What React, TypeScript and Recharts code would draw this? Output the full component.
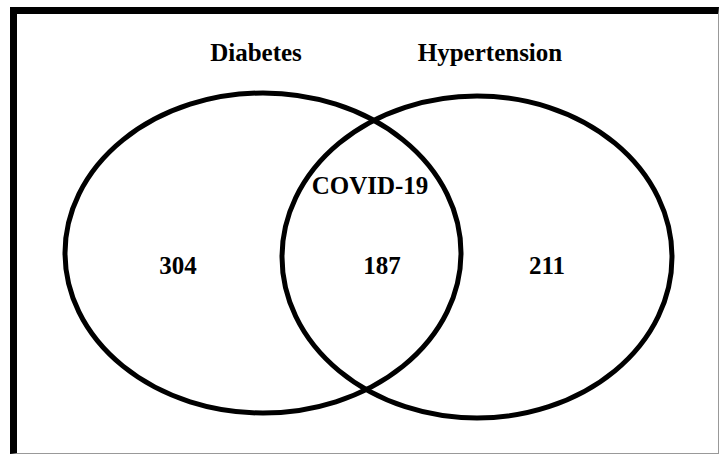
import React from "react";
import { ScatterChart, Scatter, XAxis, YAxis } from "recharts";

// ---- data ----
const setNames = ["Diabetes", "Hypertension"];
const overlapName = "COVID-19";
const regionCounts = [304, 187, 211]; // Diabetes only, both, Hypertension only

// ---- layout (chart coordinates) ----
const W = 720;
const H = 455;
const ellipseLayout = [
  { x: 263, y: 253, rx: 198, ry: 160 },
  { x: 477, y: 257, rx: 195, ry: 161 },
];
const nameLayout = [
  { x: 256, y: 61 },
  { x: 490, y: 61 },
];
const countLayout = [
  { x: 178, y: 274 },
  { x: 382, y: 274 },
  { x: 547, y: 274 },
];
const overlapLayout = { x: 370, y: 194 };

const ellipseData = ellipseLayout.map((e, i) => ({ ...e, name: setNames[i] }));
const textData = [
  ...setNames.map((n, i) => ({ ...nameLayout[i], label: n })),
  { ...overlapLayout, label: overlapName },
  ...regionCounts.map((c, i) => ({ ...countLayout[i], label: String(c) })),
];

const EllipseShape = (props: any) => {
  const { cx, cy, payload, xAxis, yAxis } = props;
  const sx = xAxis && xAxis.scale ? Math.abs(xAxis.scale(payload.rx) - xAxis.scale(0)) : payload.rx;
  const sy = yAxis && yAxis.scale ? Math.abs(yAxis.scale(payload.ry) - yAxis.scale(0)) : payload.ry;
  return (
    <ellipse cx={cx} cy={cy} rx={sx || payload.rx} ry={sy || payload.ry} fill="none" stroke="#000" strokeWidth={5} />
  );
};

const TextShape = (props: any) => {
  const { cx, cy, payload } = props;
  return (
    <text
      x={cx}
      y={cy}
      textAnchor="middle"
      fontFamily="'Liberation Serif', 'Times New Roman', serif"
      fontWeight="bold"
      fontSize={25}
      fill="#000"
    >
      {payload.label}
    </text>
  );
};

export default function App() {
  return (
    <div style={{ position: "absolute", left: 0, top: 0, width: W, height: H, background: "#fff" }}>
      <div
        style={{
          position: "absolute",
          left: 10,
          top: 7,
          width: 709,
          height: 447,
          boxSizing: "border-box",
          borderTop: "7px solid #000",
          borderLeft: "7px solid #000",
          borderRight: "1px solid #999",
          borderBottom: "1px solid #999",
        }}
      />
      <div style={{ position: "absolute", left: 0, top: 0 }}>
        <ScatterChart width={W} height={H} margin={{ top: 0, right: 0, bottom: 0, left: 0 }}>
          <XAxis type="number" dataKey="x" domain={[0, W]} hide allowDataOverflow />
          <YAxis type="number" dataKey="y" domain={[0, H]} reversed hide allowDataOverflow />
          <Scatter data={ellipseData} shape={<EllipseShape />} isAnimationActive={false} />
          <Scatter data={textData} shape={<TextShape />} isAnimationActive={false} />
        </ScatterChart>
      </div>
    </div>
  );
}
